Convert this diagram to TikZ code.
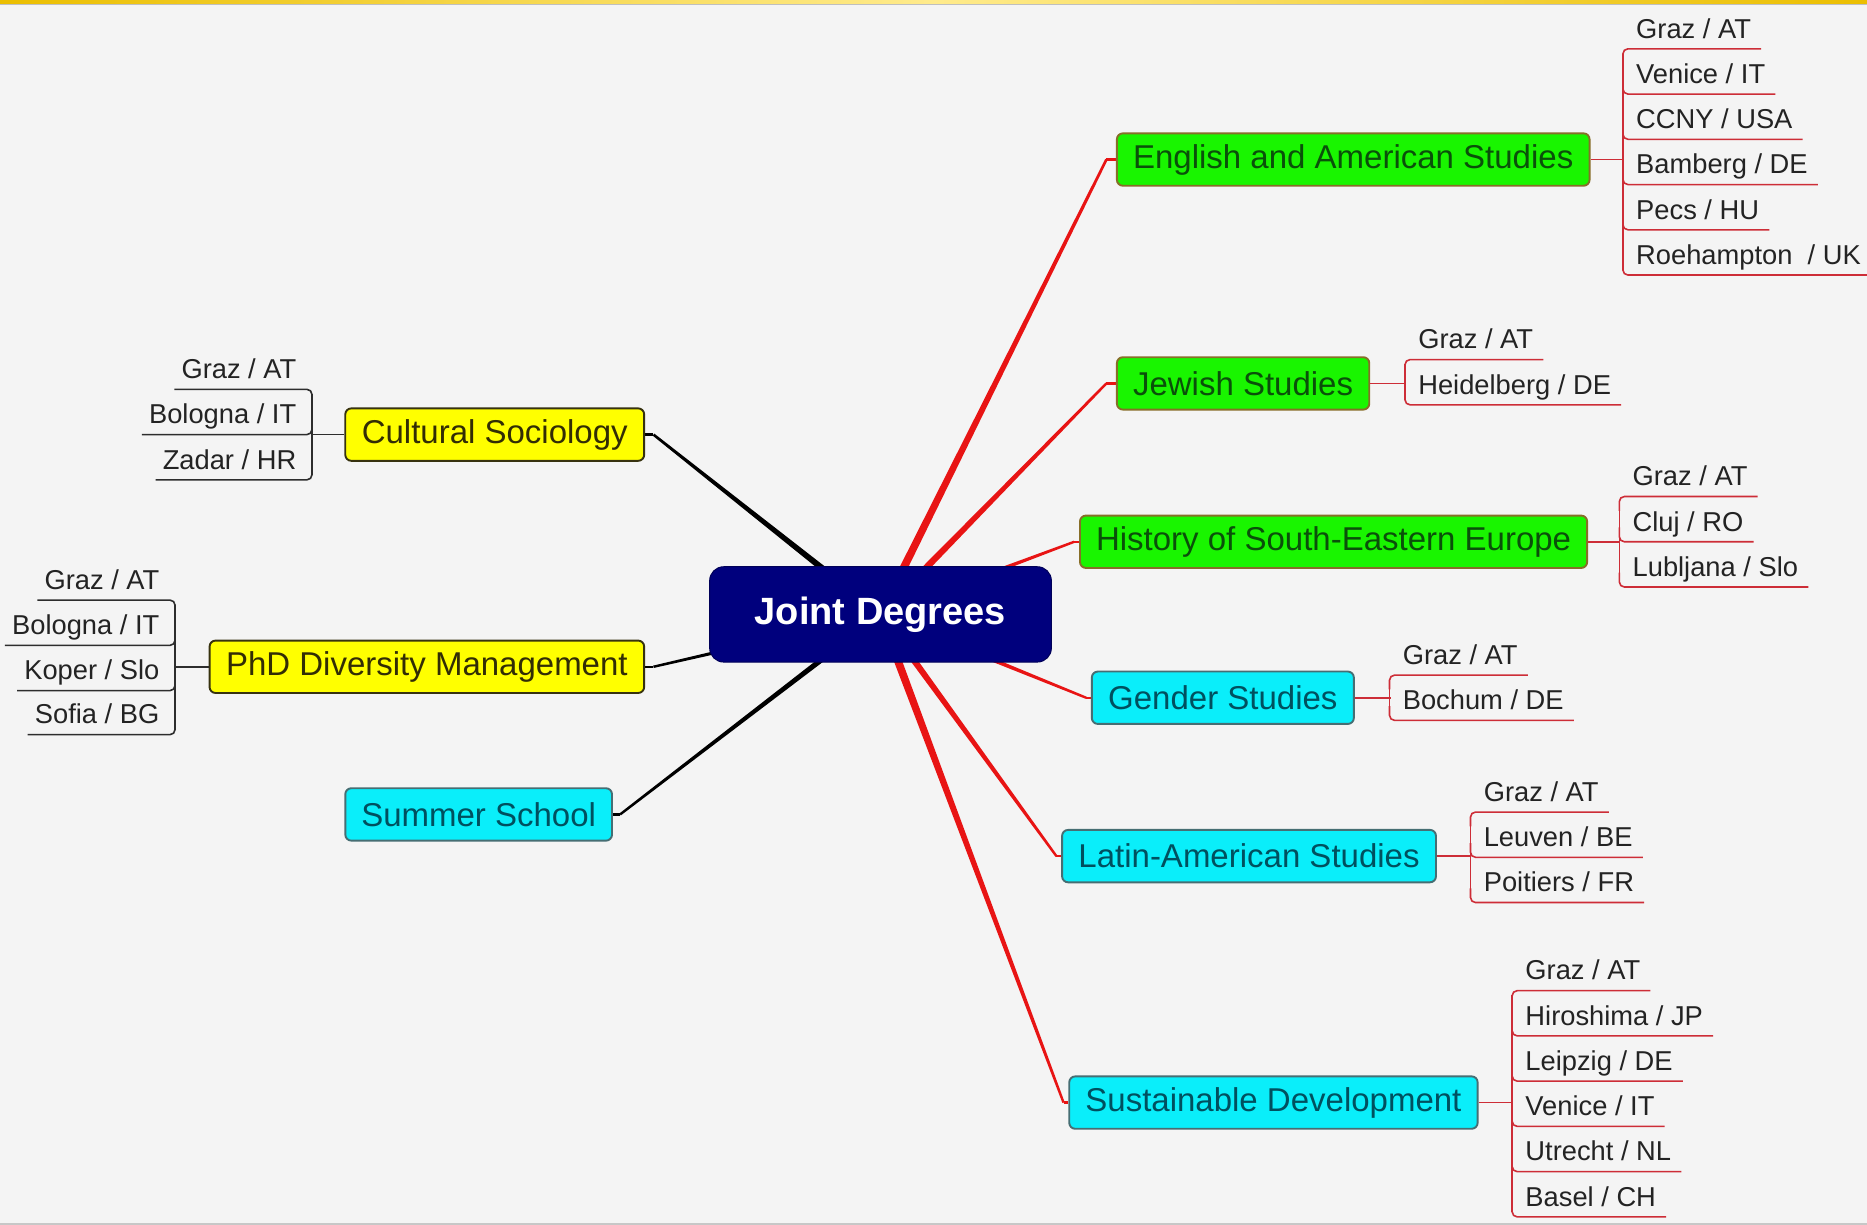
\documentclass[tikz,border=0pt]{standalone}
\usepackage{fontspec}
\setmainfont{Liberation Sans}
\usetikzlibrary{calc,backgrounds}
\definecolor{bgc}{RGB}{244,244,244}
\definecolor{navyc}{RGB}{0,0,125}
\definecolor{grn}{RGB}{25,245,0}
\definecolor{grnb}{RGB}{135,110,40}
\definecolor{grnt}{RGB}{10,80,10}
\definecolor{yel}{RGB}{255,255,0}
\definecolor{yelb}{RGB}{55,50,15}
\definecolor{yelt}{RGB}{50,45,5}
\definecolor{cyn}{RGB}{10,238,250}
\definecolor{cynb}{RGB}{70,110,115}
\definecolor{cynt}{RGB}{0,80,95}
\definecolor{redc}{RGB}{232,20,20}
\definecolor{kidred}{RGB}{205,45,55}
\definecolor{kidblk}{RGB}{45,45,45}
\definecolor{kidtext}{RGB}{35,35,35}
\definecolor{goldc}{RGB}{235,190,0}
\definecolor{goldl}{RGB}{255,235,140}
\newcommand{\rkid}[5]{%
  \node[kid, anchor=base west] (#1) at (#2+11,#3-9) {#4};
  \draw[rline, rounded corners=5pt] (#2,#3#5) |- ([xshift=10pt,yshift=-10.716pt]#1.base east);}
\newcommand{\lkid}[5]{%
  \node[kid, anchor=base east] (#1) at (#2-13,#3-9) {#4};
  \draw[lline, rounded corners=5pt] (#2,#3#5) |- ([xshift=-7pt,yshift=-10.716pt]#1.base west);}
\newcommand{\taper}[5]{%
  \fill[#1] ($(#2)!#4!90:(#3)$) -- ($(#3)!#5!-90:(#2)$) -- ($(#3)!#5!90:(#2)$) -- ($(#2)!#4!-90:(#3)$) -- cycle;}
\begin{document}
\begin{tikzpicture}[x=1.19069pt,y=-1.19069pt,
  box/.style={rounded corners=6pt, line width=1.9pt, minimum height=52.4pt, inner sep=0pt,
    font=\fontsize{33}{36}\selectfont},
  gbox/.style={box, fill=grn, draw=grnb, text=grnt},
  ybox/.style={box, fill=yel, draw=yelb, text=yelt},
  cbox/.style={box, fill=cyn, draw=cynb, text=cynt},
  jdbox/.style={rounded corners=14pt, fill=navyc, draw=navyc!70!black, line width=1pt,
    minimum width=341.7pt, minimum height=95.3pt, inner sep=0pt, text=white,
    font=\bfseries\fontsize{38}{40}\selectfont},
  kid/.style={inner sep=0pt, font=\fontsize{27.3}{30}\selectfont, text=kidtext},
  rline/.style={draw=kidred, line width=1.6pt},
  lline/.style={draw=kidblk, line width=1.6pt}]
\useasboundingbox (0,0) rectangle (1568,1028.8);

% central node
\node[jdbox] (jd) at (739.5,516) {Joint Degrees};

% right branches
\node[gbox, minimum width=472.7pt] (eng) at (1136.5,134) {English and American Studies};
\node[gbox, minimum width=252.4pt] (jew) at (1044,322) {Jewish Studies};
\node[gbox, minimum width=507.2pt] (his) at (1120,455) {History of South-Eastern Europe};
\node[cbox, minimum width=262pt] (gen) at (1027,586) {Gender Studies};
\node[cbox, minimum width=373.9pt] (lat) at (1049,719) {Latin-American Studies};
\node[cbox, minimum width=408.4pt] (sus) at (1069.5,926) {Sustainable Development};
% left branches
\node[ybox, minimum width=298.9pt] (cul) at (415.5,365) {Cultural Sociology};
\node[ybox, minimum width=434.6pt] (phd) at (358.5,560) {PhD Diversity Management};
\node[cbox, minimum width=266.7pt] (sum) at (402,684) {Summer School};

% English children
\rkid{e1}{1363}{41}{Graz / AT}{+12}
\rkid{e2}{1363}{79}{Venice / IT}{-12}
\rkid{e3}{1363}{117}{CCNY / USA}{-12}
\rkid{e4}{1363}{155}{Bamberg / DE}{-12}
\rkid{e5}{1363}{193}{Pecs / HU}{-12}
\rkid{e6}{1363}{231}{Roehampton~ / UK}{-12}
\draw[rline] (1363,45) -- (1363,227);
\draw[rline] (eng.east) -- ++(28,0);
% Jewish children
\rkid{j1}{1180}{302}{Graz / AT}{+12}
\rkid{j2}{1180}{340}{Heidelberg / DE}{-12}
\draw[rline] (1180,306) -- (1180,336);
\draw[rline] (jew.east) -- ++(30,0);
% History children
\rkid{h1}{1360}{417}{Graz / AT}{+12}
\rkid{h2}{1360}{455}{Cluj / RO}{-12}
\rkid{h3}{1360}{493}{Lubljana / Slo}{-12}
\draw[rline] (1360,421) -- (1360,489);
\draw[rline] (his.east) -- ++(27,0);
% Gender children
\rkid{g1}{1167}{567}{Graz / AT}{+12}
\rkid{g2}{1167}{605}{Bochum / DE}{-12}
\draw[rline] (1167,571) -- (1167,601);
\draw[rline] (gen.east) -- ++(30,0);
% Latin-American children
\rkid{l1}{1235}{682}{Graz / AT}{+12}
\rkid{l2}{1235}{720}{Leuven / BE}{-12}
\rkid{l3}{1235}{758}{Poitiers / FR}{-12}
\draw[rline] (1235,686) -- (1235,754);
\draw[rline] (lat.east) -- ++(29,0);
% Sustainable children
\rkid{s1}{1270}{832}{Graz / AT}{+12}
\rkid{s2}{1270}{870}{Hiroshima / JP}{-12}
\rkid{s3}{1270}{908}{Leipzig / DE}{-12}
\rkid{s4}{1270}{946}{Venice / IT}{-12}
\rkid{s5}{1270}{984}{Utrecht / NL}{-12}
\rkid{s6}{1270}{1022}{Basel / CH}{-12}
\draw[rline] (1270,836) -- (1270,1018);
\draw[rline] (sus.east) -- ++(29,0);
% Cultural Sociology children
\lkid{c1}{262}{327}{Graz / AT}{+12}
\lkid{c2}{262}{365}{Bologna / IT}{-12}
\lkid{c3}{262}{403}{Zadar / HR}{-12}
\draw[lline] (262,331) -- (262,399);
\draw[lline] (cul.west) -- ++(-28,0);
% PhD children
\lkid{p1}{147}{504}{Graz / AT}{+12}
\lkid{p2}{147}{542}{Bologna / IT}{-12}
\lkid{p3}{147}{580}{Koper / Slo}{-12}
\lkid{p4}{147}{617}{Sofia / BG}{-12}
\draw[lline] (147,508) -- (147,613);
\draw[lline] (phd.west) -- ++(-29,0);

\begin{scope}[on background layer]
  \fill[bgc] (0,0) rectangle (1568,1028.8);
  \shade[left color=goldc, right color=goldc, middle color=goldl] (0,0) rectangle (1568,3.4);
  \fill[black!25] (0,3.4) rectangle (1568,4.4);
  \fill[black!22] (0,1026.8) rectangle (1568,1028.8);
  % end points of the main connectors
  \coordinate (eE) at ($(eng.west)+(-8,0)$);
  \coordinate (jE) at ($(jew.west)+(-8,0)$);
  \coordinate (hE) at ($(his.west)+(-4,0)$);
  \coordinate (gE) at ($(gen.west)+(-4,0)$);
  \coordinate (lE) at ($(lat.west)+(-4,0)$);
  \coordinate (sE) at ($(sus.west)+(-4,0)$);
  \coordinate (cE) at ($(cul.east)+(7,0)$);
  \coordinate (pE) at ($(phd.east)+(7,0)$);
  \coordinate (mE) at ($(sum.east)+(6,0)$);
  \taper{redc}{jd.center}{eE}{4.2pt}{1.3pt}
  \taper{redc}{jd.center}{jE}{3.8pt}{1.2pt}
  \taper{redc}{jd.center}{hE}{2.8pt}{1.2pt}
  \taper{redc}{jd.center}{gE}{2.8pt}{1.2pt}
  \taper{redc}{jd.center}{lE}{3.6pt}{1.2pt}
  \taper{redc}{jd.center}{sE}{4.2pt}{1.2pt}
  \taper{black}{jd.center}{cE}{3.6pt}{1.3pt}
  \taper{black}{jd.center}{pE}{2.6pt}{1.2pt}
  \taper{black}{jd.center}{mE}{3.0pt}{1.2pt}
  \draw[redc, line width=2.4pt] (eE) -- (eng.west);
  \draw[redc, line width=2.4pt] (jE) -- (jew.west);
  \draw[redc, line width=2.4pt] (hE) -- (his.west);
  \draw[redc, line width=2.4pt] (gE) -- (gen.west);
  \draw[redc, line width=2.4pt] (lE) -- (lat.west);
  \draw[redc, line width=2.4pt] (sE) -- (sus.west);
  \draw[black, line width=2.4pt] (cE) -- (cul.east);
  \draw[black, line width=2.4pt] (pE) -- (phd.east);
  \draw[black, line width=2.4pt] (mE) -- (sum.east);
\end{scope}
\end{tikzpicture}
\end{document}
